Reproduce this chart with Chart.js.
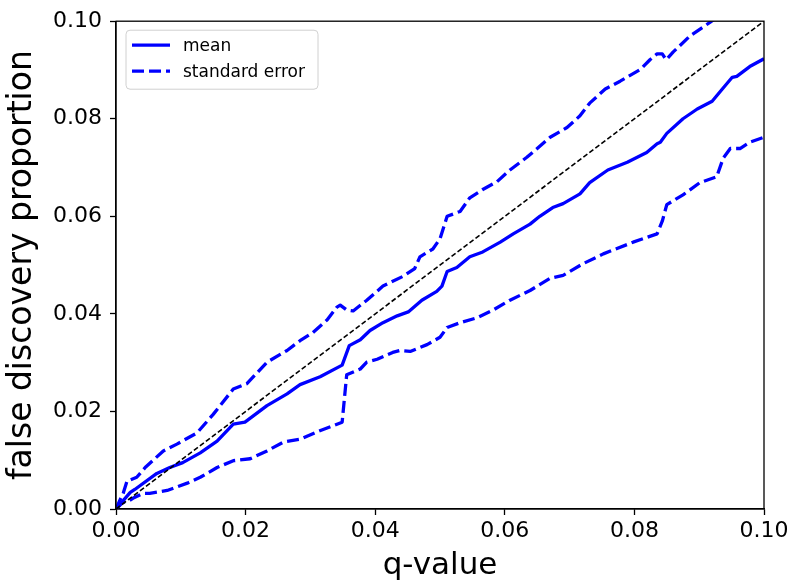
<!DOCTYPE html>
<html>
<head>
<meta charset="utf-8">
<script src="https://cdn.jsdelivr.net/npm/chart.js@4.4.1/dist/chart.umd.min.js"></script>
<style>
  html, body { margin: 0; padding: 0; background: #fff; }
  #wrap { width: 795px; height: 587px; }
</style>
</head>
<body>
<div id="wrap"><canvas id="c" width="795" height="587"></canvas></div>
<script>
// ---- Data ----
const xTickValues = [0, 0.02, 0.04, 0.06, 0.08, 0.10];
const yTickValues = [0, 0.02, 0.04, 0.06, 0.08, 0.10];

const meanQ = [0, 0.0022, 0.0029, 0.0063, 0.0083, 0.0103, 0.0130, 0.0156, 0.0181, 0.0199, 0.0233, 0.0264, 0.0284, 0.0315, 0.0349, 0.0360, 0.0377, 0.0392, 0.0412, 0.0434, 0.0451, 0.0472, 0.0495, 0.0503, 0.0511, 0.0526, 0.0546, 0.0566, 0.0593, 0.0613, 0.0639, 0.0654, 0.0674, 0.0690, 0.0716, 0.0731, 0.0759, 0.0789, 0.0819, 0.0835, 0.0840, 0.0850, 0.0875, 0.0897, 0.0920, 0.0937, 0.0951, 0.0958, 0.0978, 0.1000];
const meanV = [0, 0.0034, 0.0040, 0.0073, 0.0085, 0.0095, 0.0115, 0.0139, 0.0174, 0.0178, 0.0212, 0.0236, 0.0255, 0.0271, 0.0295, 0.0335, 0.0347, 0.0366, 0.0382, 0.0396, 0.0404, 0.0428, 0.0446, 0.0457, 0.0487, 0.0495, 0.0517, 0.0527, 0.0547, 0.0564, 0.0584, 0.0600, 0.0618, 0.0626, 0.0646, 0.0669, 0.0695, 0.0711, 0.0731, 0.0749, 0.0752, 0.0770, 0.0800, 0.0820, 0.0836, 0.0863, 0.0885, 0.0887, 0.0907, 0.0923];

const upperQ = [0, 0.0006, 0.0011, 0.0017, 0.0032, 0.0045, 0.0073, 0.0094, 0.0125, 0.0150, 0.0181, 0.0202, 0.0233, 0.0264, 0.0284, 0.0304, 0.0326, 0.0341, 0.0346, 0.0356, 0.0366, 0.0387, 0.0412, 0.0443, 0.0461, 0.0469, 0.0489, 0.0500, 0.0511, 0.0531, 0.0546, 0.0566, 0.0588, 0.0608, 0.0634, 0.0670, 0.0696, 0.0716, 0.0731, 0.0755, 0.0778, 0.0809, 0.0824, 0.0835, 0.0843, 0.0849, 0.0860, 0.0886, 0.0917, 0.0940];
const upperV = [0, 0.0018, 0.0032, 0.0057, 0.0065, 0.0085, 0.0119, 0.0133, 0.0156, 0.0194, 0.0246, 0.0257, 0.0301, 0.0325, 0.0345, 0.0362, 0.0388, 0.0414, 0.0418, 0.0408, 0.0406, 0.0428, 0.0457, 0.0477, 0.0493, 0.0517, 0.0533, 0.0554, 0.0600, 0.0610, 0.0638, 0.0655, 0.0671, 0.0695, 0.0721, 0.0762, 0.0782, 0.0806, 0.0832, 0.0861, 0.0877, 0.0901, 0.0921, 0.0933, 0.0933, 0.0921, 0.0937, 0.0970, 0.0998, 0.1020];

const lowerQ = [0, 0.0011, 0.0017, 0.0026, 0.0042, 0.0052, 0.0079, 0.0110, 0.0130, 0.0156, 0.0181, 0.0207, 0.0233, 0.0258, 0.0284, 0.0310, 0.0349, 0.0356, 0.0377, 0.0387, 0.0403, 0.0427, 0.0438, 0.0454, 0.0480, 0.0500, 0.0511, 0.0531, 0.0557, 0.0582, 0.0608, 0.0639, 0.0670, 0.0690, 0.0721, 0.0752, 0.0798, 0.0835, 0.0843, 0.0850, 0.0875, 0.0901, 0.0927, 0.0937, 0.0948, 0.0963, 0.0978, 0.1000];
const lowerV = [0, 0.0014, 0.0014, 0.0022, 0.0032, 0.0032, 0.0038, 0.0053, 0.0065, 0.0085, 0.0099, 0.0103, 0.0119, 0.0137, 0.0143, 0.0158, 0.0178, 0.0275, 0.0287, 0.0301, 0.0307, 0.0321, 0.0325, 0.0323, 0.0337, 0.0352, 0.0372, 0.0382, 0.0392, 0.0408, 0.0428, 0.0448, 0.0473, 0.0479, 0.0503, 0.0523, 0.0547, 0.0564, 0.0590, 0.0624, 0.0644, 0.0669, 0.0681, 0.0719, 0.0739, 0.0739, 0.0752, 0.0762];

const diagQ = [0, 0.1];
const diagV = [0, 0.1];

const seriesLabels = ['mean', 'standard error'];

// ---- helpers ----
const pts = (xs, ys) => xs.map((x, i) => ({ x: x, y: ys[i] }));
const BLUE = '#0000ff';
const TICK_FONT = { family: 'DejaVu Sans', size: 22 };

const framePlugin = {
  id: 'frame',
  afterDatasetsDraw(chart) {
    const { ctx, chartArea: a } = chart;
    ctx.save();
    ctx.strokeStyle = '#000';
    ctx.lineWidth = 1.3;
    ctx.strokeRect(a.left, a.top, a.right - a.left, a.bottom - a.top);
    ctx.restore();
  }
};

const legendPlugin = {
  id: 'boxLegend',
  afterDraw(chart) {
    const { ctx, chartArea: a } = chart;
    const x0 = a.left + 10, y0 = a.top + 9, w = 192, h = 59;
    ctx.save();
    ctx.beginPath();
    if (ctx.roundRect) ctx.roundRect(x0, y0, w, h, 4); else ctx.rect(x0, y0, w, h);
    ctx.fillStyle = 'rgba(255,255,255,0.8)';
    ctx.fill();
    ctx.strokeStyle = '#d0d0d0';
    ctx.lineWidth = 1;
    ctx.stroke();
    const items = chart.data.datasets.filter(d => d.showInLegend);
    items.forEach((d, i) => {
      const yy = y0 + 15 + i * 26;
      ctx.beginPath();
      ctx.setLineDash(d.borderDash || []);
      ctx.lineDashOffset = 0;
      ctx.strokeStyle = d.borderColor;
      ctx.lineWidth = d.borderWidth;
      ctx.moveTo(x0 + 6, yy);
      ctx.lineTo(x0 + 44, yy);
      ctx.stroke();
      ctx.setLineDash([]);
      ctx.fillStyle = '#000';
      ctx.font = '17px "DejaVu Sans"';
      ctx.textBaseline = 'middle';
      ctx.textAlign = 'left';
      ctx.fillText(d.label, x0 + 57, yy + 1);
    });
    ctx.restore();
  }
};

new Chart(document.getElementById('c'), {
  type: 'line',
  data: {
    datasets: [
      { label: seriesLabels[0], data: pts(meanQ, meanV), borderColor: BLUE, borderWidth: 3.3, showInLegend: true, order: 2 },
      { label: seriesLabels[1], data: pts(upperQ, upperV), borderColor: BLUE, borderWidth: 3.3, borderDash: [12, 5], showInLegend: true, order: 3 },
      { label: seriesLabels[1] + ' (lower)', data: pts(lowerQ, lowerV), borderColor: BLUE, borderWidth: 3.3, borderDash: [12, 5], showInLegend: false, order: 4 },
      { label: 'diagonal', data: pts(diagQ, diagV), borderColor: '#000', borderWidth: 1.6, borderDash: [5, 2.5], showInLegend: false, order: 1 }
    ]
  },
  options: {
    responsive: false,
    animation: false,
    devicePixelRatio: 1,
    parsing: false,
    elements: {
      point: { radius: 0, hoverRadius: 0 },
      line: { tension: 0, fill: false, borderCapStyle: 'butt', borderJoinStyle: 'round' }
    },
    datasets: { line: { clip: 0 } },
    layout: { padding: { left: 0, top: 14, right: 31, bottom: 0 } },
    plugins: {
      legend: { display: false },
      tooltip: { enabled: false }
    },
    scales: {
      x: {
        type: 'linear',
        min: 0, max: 0.1,
        afterBuildTicks: s => { s.ticks = xTickValues.map(v => ({ value: v })); },
        afterFit: s => { s.height = 78; },
        ticks: {
          font: TICK_FONT, color: '#000', padding: 3, maxRotation: 0,
          callback: v => Number(v).toFixed(2)
        },
        grid: { drawOnChartArea: false, drawTicks: true, tickLength: 6, tickColor: '#000', tickWidth: 1.3 },
        border: { display: true, color: '#000', width: 1.3 },
        title: { display: true, text: 'q-value', color: '#000', font: { family: 'DejaVu Sans', size: 31 }, padding: { top: 0, bottom: 2 } }
      },
      y: {
        type: 'linear',
        min: 0, max: 0.1,
        afterBuildTicks: s => { s.ticks = yTickValues.map(v => ({ value: v })); },
        afterFit: s => { s.width = 116; },
        ticks: {
          font: TICK_FONT, color: '#000', padding: 8,
          callback: v => Number(v).toFixed(2)
        },
        grid: { drawOnChartArea: false, drawTicks: true, tickLength: 6, tickColor: '#000', tickWidth: 1.3 },
        border: { display: true, color: '#000', width: 1.3 },
        title: { display: true, text: 'false discovery proportion', color: '#000', font: { family: 'DejaVu Sans', size: 33 }, padding: { top: 3, bottom: 0 } }
      }
    }
  },
  plugins: [framePlugin, legendPlugin]
});
</script>
</body>
</html>
